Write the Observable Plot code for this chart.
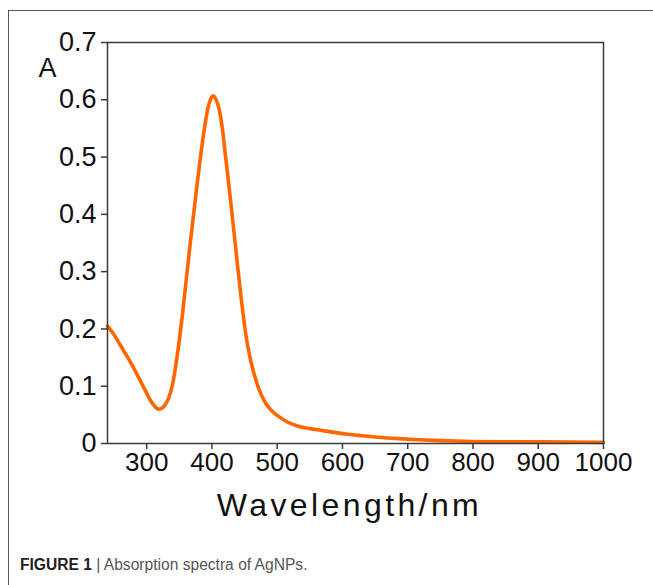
<!DOCTYPE html>
<html>
<head>
<meta charset="utf-8">
<script src="https://cdn.jsdelivr.net/npm/d3@7"></script>
<script src="https://cdn.jsdelivr.net/npm/@observablehq/plot@0.6"></script>
<style>
  html, body { margin: 0; padding: 0; background: #fff; }
  body { width: 653px; height: 585px; position: relative; overflow: hidden; font-family: "Liberation Sans", Arial, sans-serif; }
  #border { position: absolute; left: 8px; top: 10px; width: 800px; height: 800px; border-left: 1.3px solid #555; border-top: 1.3px solid #555; }
  #chart { position: absolute; left: 0; top: 0; }
  #caption { position: absolute; left: 20px; top: 556px; font-size: 15.6px; color: #555; white-space: nowrap; }
  #caption b { color: #222; }
</style>
</head>
<body>
<div id="border"></div>
<div id="chart"></div>
<div id="caption"><b>FIGURE 1</b> | Absorption spectra of AgNPs.</div>
<script>
const wavelength = [240, 250, 260, 270, 280, 290, 300, 308, 314, 318, 322, 328, 334, 340, 347, 355, 366, 378, 388, 394, 398, 402, 406, 411, 416, 421, 429, 437, 445, 452, 458, 465, 472, 480, 490, 500, 515, 530, 550, 567, 590, 608, 630, 654, 685, 716, 750, 787, 850, 900, 950, 1000];
const absorbance = [0.205, 0.19, 0.171, 0.152, 0.132, 0.11, 0.088, 0.071, 0.063, 0.06, 0.061, 0.067, 0.08, 0.105, 0.155, 0.227, 0.342, 0.459, 0.546, 0.586, 0.601, 0.607, 0.601, 0.584, 0.55, 0.5, 0.42, 0.335, 0.252, 0.19, 0.152, 0.12, 0.095, 0.075, 0.059, 0.049, 0.038, 0.031, 0.026, 0.023, 0.019, 0.016, 0.0135, 0.011, 0.0085, 0.0065, 0.005, 0.0038, 0.003, 0.0028, 0.0025, 0.002];
const xTicks = [300, 400, 500, 600, 700, 800, 900, 1000];
const yTicks = [0, 0.1, 0.2, 0.3, 0.4, 0.5, 0.6, 0.7];
const yLabel = ["A"];
const xLabel = ["Wavelength/nm"];

const data = wavelength.map((w, i) => ({w, a: absorbance[i]}));

const plot = Plot.plot({
  width: 653,
  height: 530,
  marginLeft: 107,
  marginRight: 50,
  marginTop: 42,
  marginBottom: 87,
  style: {fontFamily: "'Liberation Sans', Arial, sans-serif", color: "#111", background: "transparent"},
  x: {domain: [240, 1000]},
  y: {domain: [0, 0.7]},
  marks: [
    Plot.line(data, {x: "w", y: "a", stroke: "#ff6600", strokeWidth: 3.6, curve: "monotone-x"}),
    Plot.frame({stroke: "#3a3a3a", strokeWidth: 1.5}),
    Plot.axisY({ticks: yTicks, tickSize: 6, tickPadding: 5, fontSize: 27, label: null, stroke: "#3a3a3a", strokeWidth: 1.5,
      tickFormat: d => d === 0 ? "0" : d.toFixed(1)}),
    Plot.axisX({ticks: xTicks, tickSize: 6, tickPadding: 3, fontSize: 26, label: null, stroke: "#3a3a3a", strokeWidth: 1.5,
      tickFormat: d => String(d)}),
    Plot.text(yLabel, {x: 240, y: 0.655, text: d => d, dx: -60, fontSize: 27, textAnchor: "middle", fill: "#111"}),
    Plot.text(xLabel, {frameAnchor: "bottom", text: d => d, dy: 62, dx: -6, fontSize: 32, fill: "#111", lineAnchor: "middle"})
  ]
});
document.getElementById("chart").appendChild(plot);
plot.querySelectorAll("text").forEach(t => {
  if (t.textContent === xLabel[0]) t.setAttribute("letter-spacing", "3.4px");
});
</script>
</body>
</html>
